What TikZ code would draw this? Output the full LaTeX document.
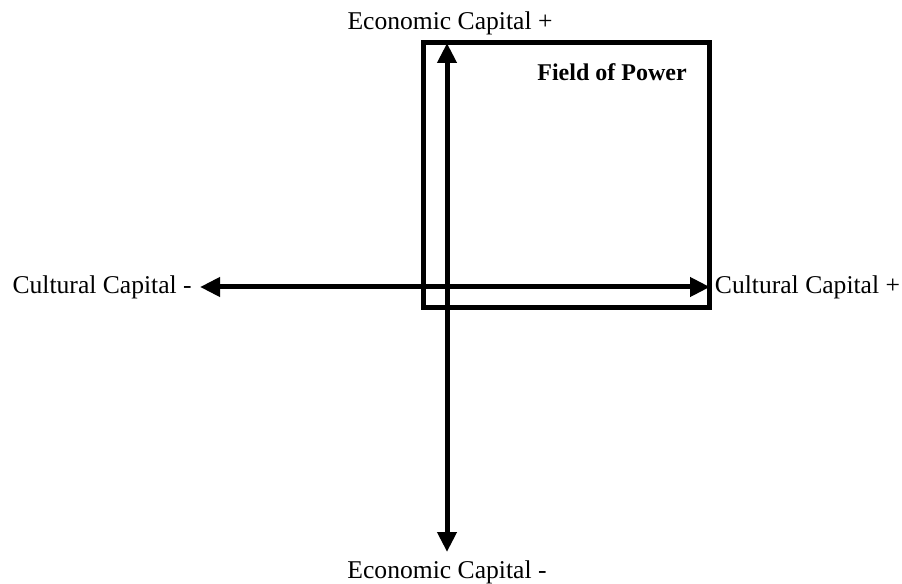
\documentclass[tikz,border=0pt]{standalone}
\usepackage{fontspec}
\setmainfont{Liberation Serif}
\usetikzlibrary{positioning,arrows.meta}

\begin{document}
\begin{tikzpicture}[
    x=0.75pt, y=-0.75pt,
    axis/.style={line width=3.75pt, {Triangle[length=15pt,width=14pt]}-{Triangle[length=15pt,width=14pt]}},
    fieldbox/.style={draw=black, line width=3.75pt},
    axislabel/.style={font=\fontsize{19.2pt}{23pt}\selectfont, inner sep=3pt},
    fieldlabel/.style={font=\fontsize{18pt}{22pt}\selectfont\bfseries, inner sep=3pt}
]
\useasboundingbox (0,0) rectangle (902,584);

% Field of Power box
\draw [fieldbox] (423.5,42.5) coordinate (boxNW) rectangle (709,307.5) coordinate (boxSE);
\node (field) [fieldlabel] at (612,72) {Field of Power};

% Axis ends
\coordinate (ecotop) at (447,43);
\coordinate (ecobot) at (447,552);
\coordinate (culleft) at (200,287);
\coordinate (culright) at (710,287);

% Axes
\draw [axis] (ecobot) -- (ecotop);
\draw [axis] (culleft) -- (culright);

% Labels
\node (ecoplus) [axislabel] at (450,23) {Economic Capital +};
\node (ecominus) [axislabel] at (447,572) {Economic Capital -};
\node (culminus) [axislabel, left=3pt of culleft] {Cultural Capital -};
\node (culplus) [axislabel, right=0.5pt of culright] {Cultural Capital +};

\end{tikzpicture}
\end{document}
